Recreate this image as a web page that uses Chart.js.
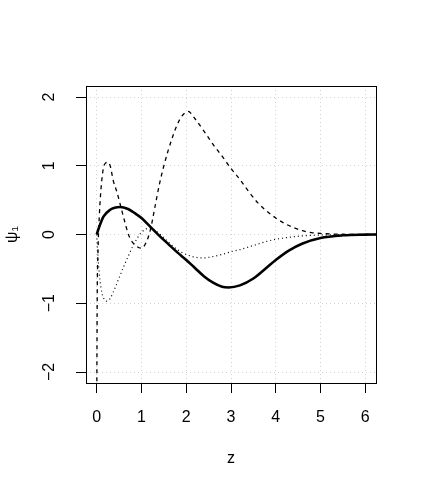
<!DOCTYPE html>
<html>
<head>
<meta charset="utf-8">
<script src="https://cdn.jsdelivr.net/npm/chart.js@4/dist/chart.umd.min.js"></script>
<style>
  html, body { margin: 0; padding: 0; background: #fff; }
  canvas { display: block; }
</style>
</head>
<body>
<canvas id="psiChart" width="421" height="491"></canvas>
<script>
// --- data ---
const zTicks = [0, 1, 2, 3, 4, 5, 6];
const psiTicks = [-2, -1, 0, 1, 2];

// solid curve
const zSolid   = [0, 0.05, 0.15, 0.3, 0.4, 0.52, 0.7, 0.85, 1.0, 1.2, 1.4, 1.6, 1.8, 2.0, 2.2, 2.4, 2.6, 2.8, 2.95, 3.2, 3.5, 3.8, 4.0, 4.3, 4.6, 5.0, 5.5, 6.0, 6.3];
const psiSolid = [0, 0.10, 0.26, 0.36, 0.39, 0.40, 0.37, 0.31, 0.24, 0.11, -0.02, -0.14, -0.26, -0.37, -0.49, -0.61, -0.70, -0.76, -0.77, -0.74, -0.64, -0.48, -0.37, -0.23, -0.13, -0.05, -0.012, -0.002, 0];

// dashed curve
const zDashed   = [0, 0.01, 0.03, 0.06, 0.1, 0.15, 0.2, 0.24, 0.3, 0.37, 0.45, 0.52, 0.62, 0.72, 0.85, 1.0, 1.1, 1.2, 1.3, 1.4, 1.5, 1.6, 1.7, 1.8, 1.9, 2.04, 2.2, 2.4, 2.6, 2.8, 3.0, 3.2, 3.4, 3.6, 3.8, 4.0, 4.2, 4.4, 4.6, 4.8, 5.0, 5.5, 6.0, 6.3];
const psiDashed = [-2.6, -1.0, -0.2, 0.3, 0.7, 0.97, 1.04, 1.05, 1.0, 0.78, 0.62, 0.45, 0.2, -0.02, -0.15, -0.2, -0.12, 0.07, 0.4, 0.73, 1.0, 1.23, 1.43, 1.6, 1.72, 1.79, 1.68, 1.50, 1.31, 1.14, 0.96, 0.80, 0.62, 0.46, 0.34, 0.24, 0.16, 0.10, 0.055, 0.028, 0.015, 0.004, 0.001, 0];

// dotted curve
const zDotted   = [0, 0.03, 0.07, 0.12, 0.18, 0.23, 0.3, 0.4, 0.5, 0.6, 0.7, 0.8, 0.9, 1.0, 1.1, 1.2, 1.3, 1.4, 1.5, 1.6, 1.7, 1.8, 1.9, 2.0, 2.2, 2.4, 2.6, 2.8, 3.0, 3.2, 3.5, 3.8, 4.0, 4.3, 4.6, 5.0, 5.5, 6.0, 6.3];
const psiDotted = [0, -0.35, -0.65, -0.86, -0.95, -0.97, -0.93, -0.79, -0.63, -0.47, -0.32, -0.18, -0.06, 0.03, 0.08, 0.09, 0.06, 0.01, -0.05, -0.11, -0.17, -0.22, -0.26, -0.29, -0.33, -0.34, -0.32, -0.29, -0.25, -0.22, -0.16, -0.10, -0.07, -0.04, -0.02, -0.008, -0.002, 0, 0];

const toPoints = (xs, ys) => xs.map((x, i) => ({ x: x, y: ys[i] }));

const FONT = "'Liberation Sans', Arial, Helvetica, sans-serif";

// full box around the plot region, like R's box()
const boxPlugin = {
    id: 'box',
    afterDraw(chart) {
        const { ctx, chartArea: a } = chart;
        ctx.save();
        ctx.strokeStyle = '#000';
        ctx.lineWidth = 1;
        ctx.strokeRect(a.left + 0.5, a.top + 0.5, a.right - a.left, a.bottom - a.top);
        ctx.restore();
    }
};

new Chart(document.getElementById('psiChart'), {
    type: 'line',
    data: {
        datasets: [
            {
                label: 'solid',
                data: toPoints(zSolid, psiSolid),
                borderColor: '#000',
                borderWidth: 2.6,
                cubicInterpolationMode: 'monotone'
            },
            {
                label: 'dashed',
                data: toPoints(zDashed, psiDashed),
                borderColor: '#000',
                borderWidth: 1.3,
                borderDash: [4, 4],
                cubicInterpolationMode: 'monotone'
            },
            {
                label: 'dotted',
                data: toPoints(zDotted, psiDotted),
                borderColor: '#000',
                borderWidth: 1.2,
                borderDash: [1, 3],
                cubicInterpolationMode: 'monotone'
            }
        ]
    },
    options: {
        responsive: false,
        animation: false,
        devicePixelRatio: 1,
        layout: { padding: { top: 86, right: 45, left: 0, bottom: 0 } },
        elements: { point: { radius: 0 } },
        plugins: {
            legend: { display: false },
            tooltip: { enabled: false }
        },
        scales: {
            x: {
                type: 'linear',
                min: -0.24,
                max: 6.24,
                afterBuildTicks: (scale) => { scale.ticks = zTicks.map(v => ({ value: v })); },
                afterFit: (scale) => { scale.height = 108; },
                border: { display: false, dash: [1, 3] },
                grid: {
                    color: '#d3d3d3',
                    lineWidth: 1,
                    tickColor: '#000',
                    tickWidth: 1,
                    tickLength: 10,
                    tickBorderDash: []
                },
                ticks: {
                    color: '#000',
                    padding: 15,
                    maxRotation: 0,
                    font: { family: FONT, size: 16 },
                    callback: (v) => String(v).replace('-', '\u2212')
                },
                title: {
                    display: true,
                    text: 'z',
                    color: '#000',
                    font: { family: FONT, size: 16 },
                    padding: { top: 0, bottom: 23 }
                }
            },
            y: {
                type: 'linear',
                min: -2.16,
                max: 2.16,
                afterBuildTicks: (scale) => { scale.ticks = psiTicks.map(v => ({ value: v })); },
                afterFit: (scale) => { scale.width = 86; },
                border: { display: false, dash: [1, 3] },
                grid: {
                    color: '#d3d3d3',
                    lineWidth: 1,
                    tickColor: '#000',
                    tickWidth: 1,
                    tickLength: 10,
                    tickBorderDash: []
                },
                ticks: {
                    color: '#000',
                    padding: 17,
                    minRotation: 90,
                    maxRotation: 90,
                    crossAlign: 'center',
                    font: { family: FONT, size: 16 },
                    callback: (v) => String(v).replace('-', '\u2212')
                },
                title: {
                    display: true,
                    text: '\u03c8\u2081',
                    color: '#000',
                    font: { family: FONT, size: 16 },
                    padding: { top: 3, bottom: 0 }
                }
            }
        }
    },
    plugins: [boxPlugin]
});
</script>
</body>
</html>
